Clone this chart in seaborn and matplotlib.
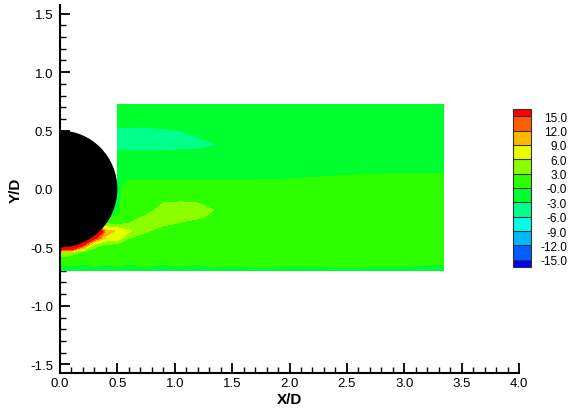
import numpy as np
import matplotlib
matplotlib.use("Agg")
import matplotlib.pyplot as plt
from matplotlib.patches import Circle
from matplotlib.ticker import MultipleLocator, FormatStrFormatter
import seaborn as sns

N = np.nan

# grid positions (X/D, Y/D) of the measured field
X_GRID = [0.0, 0.1, 0.2, 0.3, 0.4, 0.49, 0.5, 0.6, 0.75, 0.9, 1.05, 1.2, 1.35,
          1.5, 1.75, 2.0, 2.5, 3.0, 3.34]
Y_GRID = [0.72, 0.62, 0.54, 0.46, 0.38, 0.30, 0.22, 0.14, 0.06, 0.0, -0.06,
          -0.12, -0.18, -0.24, -0.30, -0.36, -0.42, -0.48, -0.54, -0.60,
          -0.65, -0.70]

# vorticity values (rows follow Y_GRID, columns X_GRID)
VORTICITY = [
    [N, N, N, N, N, N, -1, -1, -1, -1, -1, -1, -1, -1, -1, -1, -1, -1, -1],
    [N, N, N, N, N, N, -1.2, -1.2, -1.2, -1.2, -1.2, -1, -1, -1, -1, -1, -1, -1, -1],
    [N, N, N, N, N, N, -2.7, -2.7, -2.7, -2.5, -2.0, -1.5, -1.2, -1, -1, -1, -1, -1, -1],
    [N, N, N, N, N, N, -4.5, -4.5, -4.5, -4.3, -4.0, -2.8, -2.0, -1.5, -1, -1, -1, -1, -1],
    [N, N, N, N, N, N, -4.5, -4.5, -4.5, -4.5, -4.0, -3.8, -3.1, -2.0, -1.2, -1, -1, -1, -1],
    [N, N, N, N, N, N, -2.0, -2.0, -2.0, -2.2, -2.2, -2.2, -2.0, -1.5, -1, -1, -1, -1, -1],
    [N, N, N, N, N, N, -1, -1, -1, -1, -1, -1, -1, -1, -1, -1, -1, -1, -1],
    [N, N, N, N, N, N, -1, -1, -1, -1, -1, -1, -1, -1, -1, -1, -0.5, -0.1, -0.1],
    [N, N, N, N, N, N, -0.5, 0.2, 0.2, 0.2, 0.2, 0.2, 0.2, 0.2, 0.3, 0.5, 1.2, 1.5, 1.5],
    [-1, -1, -1, -1, -1, -1, -1, 1.5, 1.5, 1.5, 1.5, 1.5, 1.5, 1.5, 1.5, 1.5, 1.5, 1.5, 1.5],
    [-1, -1, -1, -1, -1, -1, -1, 1.5, 1.5, 1.5, 1.5, 1.5, 1.5, 1.5, 1.5, 1.5, 1.5, 1.5, 1.5],
    [-1, -1, -1, -1, -1, -1, -0.6, 1.5, 1.5, 3.0, 3.3, 3.0, 2.2, 1.5, 1.5, 1.5, 1.5, 1.5, 1.5],
    [-1, -1, -1, -1, -1, -0.3, -0.2, 1.5, 1.5, 4.5, 4.5, 4.2, 2.9, 1.5, 1.5, 1.5, 1.5, 1.5, 1.5],
    [-1, -1, -1, -1, -1, 0.3, 0.5, 1.5, 3.5, 5.0, 4.2, 3.4, 2.4, 1.5, 1.5, 1.5, 1.5, 1.5, 1.5],
    [-1, -1, -1, 6, 3.5, 2.5, 2.8, 3.2, 5.0, 3.5, 2.5, 1.8, 1.5, 1.5, 1.5, 1.5, 1.5, 1.5, 1.5],
    [30, 30, 30, 30, 10, 8.8, 8.8, 6.5, 3.4, 1.5, 1.5, 1.5, 1.5, 1.5, 1.5, 1.5, 1.5, 1.5, 1.5],
    [30, 30, 30, 16, 8.5, 8.5, 8.5, 3.1, 1.5, 1.5, 1.5, 1.5, 1.5, 1.5, 1.5, 1.5, 1.5, 1.5, 1.5],
    [40, 40, 15.5, 4, 2.5, 1.5, 1.5, 1.5, 1.5, 1.5, 1.5, 1.5, 1.5, 1.5, 1.5, 1.5, 1.5, 1.5, 1.5],
    [4.5, 4.0, 2.5, 1.5, 1.5, 1.5, 1.5, 1.5, 1.5, 1.5, 1.5, 1.5, 1.5, 1.5, 1.5, 1.5, 1.5, 1.5, 1.5],
    [2.2, 2.0, 1.5, 1.5, 1.5, 1.5, 1.5, 1.5, 1.5, 1.5, 1.5, 1.5, 1.5, 1.5, 1.5, 1.5, 1.5, 1.5, 1.5],
    [-0.3, 0.2, -0.4, 0.3, -0.2, 0.4, 0.4, -0.3, 0.5, -0.2, 0.4, -0.1, 0.5, 0.2, 0.6, 0.3, 0.5, 0.3, -0.2],
    [-0.8, -0.8, -0.8, -0.8, -0.8, -0.8, -0.8, -0.8, -0.8, -0.8, -0.8, -0.8, -0.8, -0.8, -0.8, -0.8, -0.8, -0.8, -0.8],
]

LEVELS = [-15, -12, -9, -6, -3, 0, 3, 6, 9, 12, 15]
LEVEL_LABELS = ["-15.0", "-12.0", "-9.0", "-6.0", "-3.0", "-0.0", "3.0", "6.0",
                "9.0", "12.0", "15.0"]
BAND_COLORS = ["#0000FF", "#005DFF", "#00B9FF", "#00FFE8", "#00FF8B", "#00FF2E",
               "#2EFF00", "#8BFF00", "#E8FF00", "#FFB900", "#FF5D00", "#FF0000"]
CYLINDER_CENTER = (0.0, 0.0)
CYLINDER_RADIUS = 0.5

sns.set_theme(style="ticks")
plt.rcParams["font.family"] = ["Liberation Sans", "DejaVu Sans"]
plt.rcParams["axes.unicode_minus"] = False

fig = plt.figure(figsize=(5.72, 4.10), dpi=100)
ax = fig.add_axes([60 / 572, 36 / 410, 459 / 572, 368 / 410])

Z = np.ma.masked_invalid(np.array(VORTICITY, dtype=float))
cf = ax.contourf(X_GRID, Y_GRID, Z, levels=LEVELS, colors=BAND_COLORS,
                 extend="both", antialiased=False)
ax.add_patch(Circle(CYLINDER_CENTER, CYLINDER_RADIUS, facecolor="black",
                    edgecolor="none", zorder=3))

ax.set_xlim(0, 4)
ax.set_ylim(-1.575, 1.575)
ax.xaxis.set_major_locator(MultipleLocator(0.5))
ax.xaxis.set_minor_locator(MultipleLocator(0.1))
ax.yaxis.set_major_locator(MultipleLocator(0.5))
ax.yaxis.set_minor_locator(MultipleLocator(0.1))
ax.xaxis.set_major_formatter(FormatStrFormatter("%.1f"))
ax.yaxis.set_major_formatter(FormatStrFormatter("%.1f"))
for s in ["top", "right"]:
    ax.spines[s].set_visible(False)
for s in ["left", "bottom"]:
    ax.spines[s].set_linewidth(1.5)
    ax.spines[s].set_color("black")
ax.tick_params(which="major", direction="in", length=7, width=1.3, color="black",
               labelsize=9.5, labelcolor="black")
ax.tick_params(which="minor", direction="in", length=4, width=1.0, color="black")
ax.tick_params(axis="x", which="major", pad=3)
ax.tick_params(axis="y", which="major", pad=5)
ax.set_xlabel("X/D", fontsize=11, fontweight="bold", labelpad=2, color="black")
ax.set_ylabel("Y/D", fontsize=11, fontweight="bold", labelpad=5, color="black")

cax = fig.add_axes([513 / 572, (410 - 268) / 410, 18 / 572, 158 / 410])
cb = fig.colorbar(cf, cax=cax, extend="both", extendrect=True, extendfrac=0.05,
                  drawedges=True, ticks=LEVELS)
cb.set_ticklabels(LEVEL_LABELS)
cb.ax.tick_params(length=0, labelsize=8.5, pad=26, labelcolor="black")
for t in cb.ax.get_yticklabels():
    t.set_horizontalalignment("right")
cb.outline.set_linewidth(0.8)
cb.outline.set_edgecolor("#333333")
cb.dividers.set_linewidth(0.8)
cb.dividers.set_color("#333333")

fig.savefig("out.png", dpi=100)
